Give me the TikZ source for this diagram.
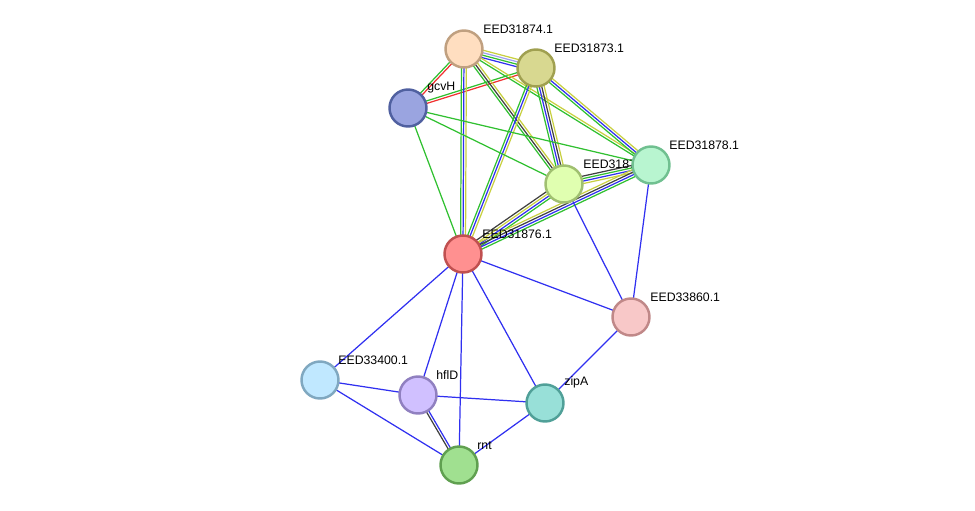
\documentclass[tikz,border=0pt]{standalone}
\usepackage{fontspec}
\setmainfont{Liberation Sans}
\usetikzlibrary{calc,backgrounds}
\definecolor{eyel}{HTML}{C8D040}
\definecolor{egrn}{HTML}{30C030}
\definecolor{eblu}{HTML}{3030F0}
\definecolor{ered}{HTML}{F03030}
\definecolor{elav}{HTML}{A0A0F0}
\definecolor{eblk}{HTML}{404040}
\newcommand{\link}[3]{%
  \foreach \c/\o in {#3}
    \draw[edge,\c] ($(#1)!\o*1.4pt!90:(#2)$)-- ($(#2)!\o*1.4pt!-90:(#1)$);}
\begin{document}
\begin{tikzpicture}[x=0.02cm,y=-0.02cm,
    prot/.style={circle,minimum size=0.74cm,line width=1.4pt,inner sep=0pt},
    lab/.style={anchor=south west,inner sep=0pt,font=\fontsize{7}{8}\selectfont},
    edge/.style={line width=0.7pt}]
\useasboundingbox (0,0) rectangle (975,511);
% labels
\node[lab] at (483,34) {EED31874.1};
\node[lab] at (554,53) {EED31873.1};
\node[lab] at (427,93) {gcvH};
\node[lab] at (669,150) {EED31878.1};
\node[lab] at (583,169) {EED31877.1};
\node[lab] at (482,239) {EED31876.1};
\node[lab] at (650,302) {EED33860.1};
\node[lab] at (338,365) {EED33400.1};
\node[lab] at (436,380) {hflD};
\node[lab] at (564,388) {zipA};
\node[lab] at (477,450) {rnt};
% proteins
\node[prot,fill={rgb,255:red,255;green,222;blue,192},draw={rgb,255:red,192;green,160;blue,128}] (p74) at (464,49) {};
\node[prot,fill={rgb,255:red,216;green,216;blue,144},draw={rgb,255:red,160;green,160;blue,80}] (p73) at (536,68) {};
\node[prot,fill={rgb,255:red,154;green,164;blue,224},draw={rgb,255:red,80;green,96;blue,160}] (gcvH) at (408,108) {};
\node[prot,fill={rgb,255:red,184;green,245;blue,208},draw={rgb,255:red,112;green,192;blue,144}] (p78) at (651,165) {};
\node[prot,fill={rgb,255:red,224;green,255;blue,176},draw={rgb,255:red,160;green,192;blue,112}] (p77) at (564,184) {};
\node[prot,fill={rgb,255:red,255;green,144;blue,144},draw={rgb,255:red,192;green,80;blue,80}] (p76) at (463,254) {};
\node[prot,fill={rgb,255:red,248;green,200;blue,200},draw={rgb,255:red,192;green,136;blue,136}] (p60) at (631,317) {};
\node[prot,fill={rgb,255:red,192;green,232;blue,255},draw={rgb,255:red,128;green,168;blue,192}] (p00) at (320,380) {};
\node[prot,fill={rgb,255:red,208;green,192;blue,255},draw={rgb,255:red,144;green,128;blue,192}] (hflD) at (418,395) {};
\node[prot,fill={rgb,255:red,152;green,224;blue,216},draw={rgb,255:red,80;green,160;blue,152}] (zipA) at (545,403) {};
\node[prot,fill={rgb,255:red,160;green,224;blue,144},draw={rgb,255:red,96;green,160;blue,80}] (rnt) at (459,465) {};
% edges
\begin{scope}[on background layer]
\link{p74}{p73}{eblu/-1.5,egrn/-0.5,elav/0.5,eyel/1.5}
\link{p74}{gcvH}{egrn/-0.5,ered/0.5}
\link{p73}{gcvH}{egrn/-0.5,ered/0.5}
\link{p74}{p76}{egrn/-1,eblu/0,eyel/1}
\link{p74}{p77}{egrn/-1,eblk/0,eyel/1}
\link{p74}{p78}{egrn/-0.5,eyel/0.5}
\link{p73}{p76}{egrn/-1,eblu/0,eyel/1}
\link{p73}{p77}{egrn/-1.5,eblu/-0.5,eblk/0.5,eyel/1.5}
\link{p73}{p78}{egrn/-1,eblu/0,eyel/1}
\link{gcvH}{p78}{egrn/0}
\link{gcvH}{p77}{egrn/0}
\link{gcvH}{p76}{egrn/0}
\link{p77}{p78}{eyel/-1.5,eblu/-0.5,egrn/0.5,eblk/1.5}
\link{p76}{p77}{egrn/-1.5,eblu/-0.5,eyel/0.5,eblk/1.5}
\link{p76}{p78}{egrn/-1.5,eblu/-0.5,eblk/0.5,eyel/1.5}
\link{p77}{p60}{eblu/0}
\link{p78}{p60}{eblu/0}
\link{p76}{p60}{eblu/0}
\link{p76}{p00}{eblu/0}
\link{p76}{hflD}{eblu/0}
\link{p76}{rnt}{eblu/0}
\link{p76}{zipA}{eblu/0}
\link{p00}{hflD}{eblu/0}
\link{p00}{rnt}{eblu/0}
\link{hflD}{zipA}{eblu/0}
\link{zipA}{rnt}{eblu/0}
\link{zipA}{p60}{eblu/0}
\link{hflD}{rnt}{eblk/-0.5,eblu/0.5}
\end{scope}
\end{tikzpicture}
\end{document}
